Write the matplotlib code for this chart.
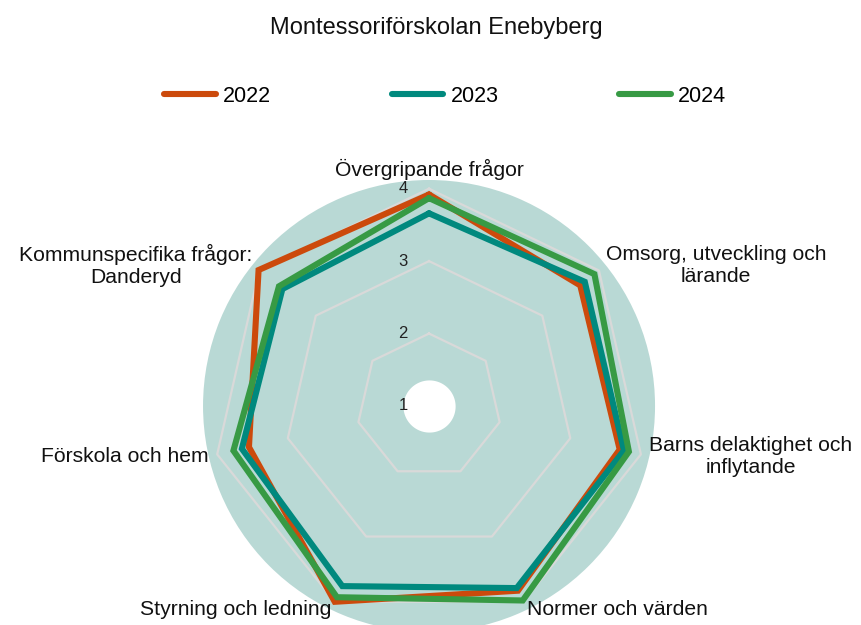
import matplotlib
matplotlib.use("Agg")
import matplotlib.pyplot as plt
import matplotlib.transforms as mtrans
import numpy as np

plt.rcParams['font.family'] = ['Liberation Sans', 'DejaVu Sans']

categories = ["Övergripande frågor", "Omsorg, utveckling och\nlärande",
              "Barns delaktighet och\ninflytande", "Normer och värden",
              "Styrning och ledning", "Förskola och hem",
              "Kommunspecifika frågor:\nDanderyd"]
years = ["2022", "2023", "2024"]
v2022 = [3.92, 3.67, 3.70, 3.83, 4.00, 3.55, 4.01]
v2023 = [3.66, 3.75, 3.76, 3.79, 3.76, 3.65, 3.59]
v2024 = [3.87, 3.92, 3.83, 3.98, 3.93, 3.77, 3.65]
ticks = [1, 2, 3, 4]
colors = ['#cc4a0c', '#00897e', '#379a44']

n = len(categories)
ang = np.arange(n) * 2 * np.pi / n
ang_c = np.append(ang, ang[0])

fig = plt.figure(figsize=(8.61, 6.25), dpi=100)
ax = fig.add_axes([0.2358, -0.0112, 0.525, 0.7232], projection='polar')
ax.set_theta_zero_location('N')
ax.set_theta_direction(-1)
ax.set_ylim(1, 4.12)
ax.set_facecolor('#b9d9d5')
ax.spines['polar'].set_visible(False)
ax.grid(False)
ax.set_xticks([])
ax.set_yticks([])

# polygon grid
for t in ticks[1:]:
    ax.plot(ang_c, [t] * (n + 1), color='#d9d9d9', lw=1.6, zorder=1)

# white hole in the middle
th = np.linspace(0, 2 * np.pi, 200)
ax.fill_between(th, 1, 1.36, color='white', zorder=2, lw=0)

for vals, c, lab in zip([v2022, v2023, v2024], colors, years):
    ax.plot(ang_c, vals + vals[:1], color=c, lw=4.4, label=lab, zorder=3,
            solid_joinstyle='miter', solid_capstyle='round')

# radial tick labels
off = mtrans.offset_copy(ax.transData, fig=fig, x=-26, y=0, units='dots')
for t in ticks:
    ax.text(0, t, str(t), transform=off, ha='center', va='center',
            fontsize=12, color='#222222', zorder=4)

# category labels
for a, c in zip(ang, categories):
    s = np.sin(a)
    if abs(s) < 0.01:
        ha, va = 'center', 'bottom'
    elif s > 0:
        ha, va = 'left', 'center'
    else:
        ha, va = 'right', 'center'
    ax.text(a, 4.12, c, ha=ha, va=va, multialignment='center',
            fontsize=15.2, color='#111111', clip_on=False)

fig.text(436 / 861, 1 - 28 / 625, "Montessoriförskolan Enebyberg",
         ha='center', va='center', fontsize=17, color='#111111')

fig.legend(loc='center', bbox_to_anchor=(445 / 861, 1 - 96 / 625), ncol=3,
           frameon=False, fontsize=15.5, handlelength=2.4, handletextpad=0.33,
           columnspacing=5.6)

fig.savefig('out.png', dpi=100)
